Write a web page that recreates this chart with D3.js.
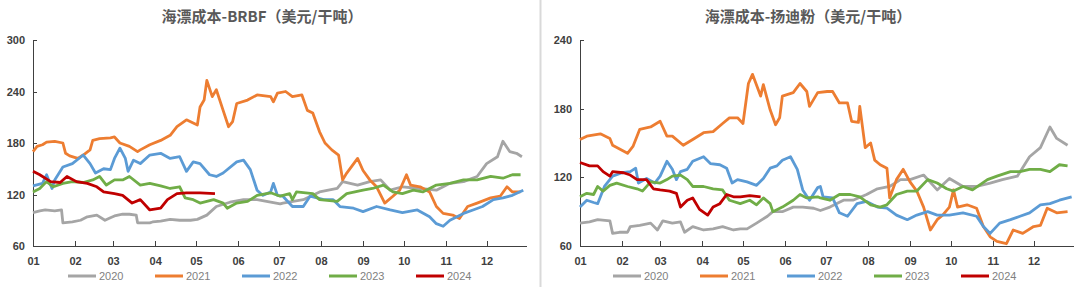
<!DOCTYPE html>
<meta charset="utf-8">
<style>
body { margin: 0; background: #fff; font-family: "Noto Sans CJK SC", "Noto Sans", sans-serif; }
.axis text { font-size: 11px; font-weight: bold; fill: #404040; font-family: "Liberation Sans", Arial, sans-serif; }
.axis path, .axis line { stroke: #404040; shape-rendering: crispEdges; }
.title { font-size: 15px; fill: #595959; font-weight: bold; }
.legend text { font-size: 11px; fill: #7f7f7f; font-family: "Liberation Sans", Arial, sans-serif; }
.series { fill: none; stroke-width: 2.8; stroke-linejoin: round; }
</style>
<body>
<script src="https://cdn.jsdelivr.net/npm/d3@7"></script>
<script>

// years shown in both charts
var years = ["2020", "2021", "2022", "2023", "2024"];
var colors = ["#a5a5a5", "#ed7d31", "#5b9bd5", "#70ad47", "#c00000"];
var monthLabels = ["01","02","03","04","05","06","07","08","09","10","11","12"];
var monthStarts = [0,31,59,90,120,151,181,212,243,273,304,334];

// BRBF series: [day of year, USD/dmt]
var brbf2020 = [[0,99],[5,101],[9,102],[16,101],[21,102],[22,87],[29,88],[35,90],[40,94],[47,96],[53,90],[57,93],[60,95],[66,97],[71,97],[76,96],[77,87],[86,87],[88,88],[94,89],[101,91],[108,90],[116,90],[121,91],[128,96],[135,106],[145,111],[155,114],[165,114],[175,111],[182,109],[184,110],[199,114],[211,123],[224,127],[228,135],[239,131],[248,135],[256,137],[263,125],[272,129],[285,127],[297,125],[307,133],[317,135],[327,141],[334,156],[342,164],[346,182],[351,170],[356,168],[360,164]];
var brbf2021 = [[0,170],[3,176],[7,178],[10,181],[16,182],[22,180],[24,168],[27,165],[33,162],[37,166],[42,172],[44,183],[49,185],[57,186],[60,187],[64,180],[71,176],[77,170],[79,172],[86,178],[94,183],[101,189],[106,199],[113,207],[121,201],[123,222],[126,230],[128,253],[132,234],[135,242],[140,218],[144,199],[147,205],[150,226],[158,230],[165,236],[175,234],[177,228],[180,238],[186,240],[191,234],[198,236],[202,218],[206,215],[211,193],[215,180],[220,172],[225,166],[228,137],[231,145],[239,162],[243,148],[248,137],[253,129],[259,110],[265,118],[270,125],[275,143],[278,131],[285,129],[292,123],[297,106],[302,98],[309,96],[314,92],[320,106],[327,110],[337,116],[344,118],[349,129],[353,123],[359,123]];
var brbf2022 = [[0,130],[7,133],[10,143],[14,127],[16,137],[22,152],[29,156],[37,166],[42,156],[46,145],[52,150],[57,149],[60,162],[64,174],[68,162],[70,147],[74,160],[79,156],[86,166],[94,168],[101,162],[108,164],[113,147],[118,158],[123,156],[130,143],[135,141],[140,145],[150,158],[155,160],[160,149],[165,125],[169,119],[175,123],[177,133],[180,119],[184,118],[191,106],[199,106],[204,118],[214,114],[221,114],[226,106],[236,104],[243,100],[253,106],[263,102],[272,99],[283,102],[292,94],[297,86],[302,83],[307,90],[317,98],[324,102],[331,106],[339,114],[346,116],[353,119],[361,125]];
var brbf2023 = [[0,123],[5,127],[10,135],[15,129],[22,133],[29,135],[37,134],[44,137],[49,141],[54,131],[60,137],[66,137],[71,141],[79,131],[86,133],[94,130],[101,127],[108,129],[112,116],[118,114],[123,110],[133,114],[140,110],[143,104],[150,110],[158,112],[165,119],[175,122],[182,118],[189,121],[191,114],[194,123],[206,121],[211,114],[224,112],[231,121],[243,125],[250,127],[258,131],[265,123],[272,121],[280,125],[287,123],[297,131],[307,133],[317,137],[327,137],[337,141],[346,139],[353,143],[359,143]];
var brbf2024 = [[0,147],[5,143],[13,135],[20,134],[25,141],[32,135],[40,133],[47,129],[52,123],[60,121],[66,119],[73,110],[79,114],[86,102],[94,104],[99,114],[106,121],[113,122],[123,122],[134,121]];

// Yandi fines series: [day of year, USD/dmt]
var yandi2020 = [[0,80],[7,81],[13,83],[22,82],[24,71],[29,72],[35,72],[37,77],[44,78],[52,80],[57,74],[61,82],[68,80],[74,81],[77,72],[83,77],[91,74],[98,75],[105,77],[113,74],[118,75],[123,75],[130,80],[138,86],[142,90],[149,90],[157,94],[164,94],[172,93],[177,91],[184,94],[194,100],[201,100],[211,105],[219,110],[228,112],[236,118],[243,118],[253,122],[263,109],[272,119],[282,112],[292,112],[302,115],[311,118],[322,121],[331,138],[339,146],[346,164],[351,154],[359,148]];
var yandi2021 = [[0,153],[5,156],[15,158],[22,154],[24,148],[35,141],[39,147],[44,162],[52,164],[59,169],[64,156],[68,156],[76,148],[83,153],[91,159],[98,160],[105,167],[110,172],[116,172],[120,167],[124,202],[127,210],[133,191],[135,201],[140,179],[144,166],[147,172],[149,191],[157,194],[162,202],[167,195],[169,182],[175,194],[182,195],[186,195],[191,185],[197,185],[200,169],[205,168],[206,182],[210,146],[214,150],[217,135],[221,131],[226,128],[228,102],[233,118],[238,127],[243,116],[248,108],[253,94],[258,74],[263,83],[267,87],[272,94],[275,109],[278,94],[285,96],[292,93],[297,77],[302,68],[307,64],[314,62],[319,74],[326,71],[334,77],[339,78],[344,93],[351,89],[359,90]];
var yandi2022 = [[0,94],[5,100],[10,98],[13,97],[18,112],[24,121],[31,124],[37,125],[41,128],[43,115],[49,119],[55,115],[59,121],[64,134],[68,127],[71,118],[74,125],[79,127],[83,134],[91,138],[96,132],[103,131],[108,128],[112,115],[116,118],[123,116],[130,113],[135,119],[140,128],[145,130],[149,135],[155,138],[160,127],[164,109],[169,100],[175,111],[177,112],[179,103],[186,102],[191,89],[197,86],[204,97],[211,99],[219,94],[226,93],[233,87],[241,83],[248,87],[256,90],[263,87],[272,87],[282,89],[292,86],[297,77],[302,71],[309,80],[317,83],[324,86],[331,89],[339,96],[346,97],[353,100],[362,103]];
var yandi2023 = [[0,103],[5,106],[10,105],[13,112],[17,108],[22,113],[27,115],[35,112],[42,110],[46,108],[52,116],[59,115],[64,118],[68,121],[74,122],[79,118],[83,112],[91,112],[98,110],[105,109],[110,100],[118,97],[125,100],[130,96],[135,102],[140,97],[142,90],[149,94],[157,100],[162,105],[167,102],[175,103],[177,102],[184,100],[191,105],[199,105],[206,103],[214,96],[221,94],[226,96],[233,105],[241,108],[248,108],[256,118],[263,115],[270,110],[275,108],[282,112],[289,109],[300,118],[307,121],[317,125],[324,125],[331,127],[339,127],[346,125],[353,131],[359,130]];
var yandi2024 = [[0,133],[7,130],[13,130],[17,125],[22,121],[24,125],[32,124],[37,122],[42,118],[49,118],[54,110],[59,109],[66,108],[71,106],[74,94],[79,100],[83,102],[88,92],[94,87],[98,94],[103,97],[108,105],[113,103],[118,103],[125,104],[133,103]];

var brbfTicks = [60, 120, 180, 240, 300];
var yandiTicks = [60, 120, 180, 240];

var svg = d3.select("body").append("svg")
    .attr("width", 1080)
    .attr("height", 287);

// divider between the two charts
svg.append("line")
    .attr("x1", 540.5).attr("x2", 540.5)
    .attr("y1", 0).attr("y2", 287)
    .attr("stroke", "#d9d9d9").attr("stroke-width", 2);

function drawPanel(opt) {
  var g = svg.append("g");

  var x = d3.scaleLinear().domain([0, 363]).range([opt.left, opt.right]);
  var y = d3.scaleLinear().domain([opt.ticks[0], opt.ticks[opt.ticks.length - 1]]).range([246, 40]);

  g.append("text")
      .attr("class", "title")
      .attr("x", opt.titleX)
      .attr("y", 22)
      .attr("text-anchor", "middle")
      .text(opt.title);

  var yAxis = d3.axisLeft(y).tickValues(opt.ticks).tickSize(-4).tickPadding(8).tickSizeOuter(0);
  g.append("g")
      .attr("class", "axis")
      .attr("transform", "translate(" + opt.left + ",0)")
      .call(yAxis);

  var xAxis = d3.axisBottom(x).tickValues(monthStarts).tickSize(-5).tickPadding(11).tickSizeOuter(0)
      .tickFormat(function(d, i) { return monthLabels[i]; });
  g.append("g")
      .attr("class", "axis")
      .attr("transform", "translate(0,246)")
      .call(xAxis);

  var line = d3.line()
      .x(function(d) { return x(d[0]); })
      .y(function(d) { return y(d[1]); });

  opt.series.forEach(function(s, i) {
    g.append("path")
        .datum(s)
        .attr("class", "series")
        .attr("stroke", colors[i])
        .attr("d", line);
  });

  var leg = g.append("g").attr("class", "legend");
  years.forEach(function(yr, i) {
    var lx = opt.legendX + i * 87;
    leg.append("line")
        .attr("x1", lx).attr("x2", lx + 28)
        .attr("y1", 276).attr("y2", 276)
        .attr("stroke", colors[i]).attr("stroke-width", 3);
    leg.append("text")
        .attr("x", lx + 31).attr("y", 280)
        .text(yr);
  });
}

drawPanel({
  title: "海漂成本-BRBF（美元/干吨）",
  titleX: 262, left: 33, right: 526, legendX: 68,
  ticks: brbfTicks,
  series: [brbf2020, brbf2021, brbf2022, brbf2023, brbf2024]
});

drawPanel({
  title: "海漂成本-扬迪粉（美元/干吨）",
  titleX: 808, left: 580, right: 1073, legendX: 613,
  ticks: yandiTicks,
  series: [yandi2020, yandi2021, yandi2022, yandi2023, yandi2024]
});

</script>
